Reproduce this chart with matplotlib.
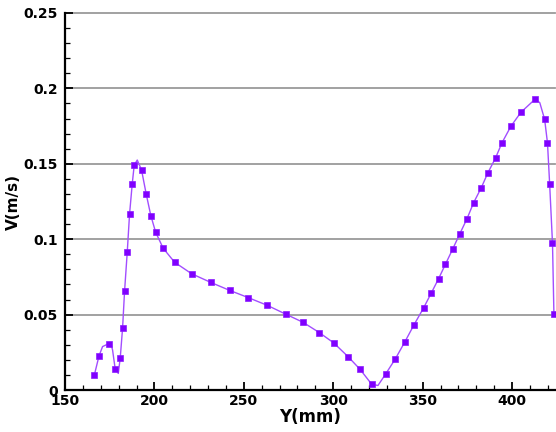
import matplotlib

matplotlib.use("Agg")
import matplotlib.pyplot as plt
import numpy as np

# Sampled profile (symbols)
y_mm = [166.4, 169.0, 174.4, 178.1, 180.9, 182.2, 183.3, 184.8, 186.1, 187.6,
        188.7, 192.8, 195.4, 198.0, 200.7, 204.9, 211.3, 220.8, 231.4, 242.0,
        252.6, 263.2, 273.6, 283.1, 292.3, 300.3, 308.3, 315.0, 321.5, 329.3,
        334.7, 339.9, 345.1, 350.6, 354.9, 358.9, 362.7, 366.8, 370.7, 374.8,
        378.5, 382.8, 386.5, 390.8, 394.3, 399.3, 404.9, 413.0, 418.2, 419.8,
        421.0, 422.6, 423.4]
v_ms = [0.0099, 0.0225, 0.0307, 0.0137, 0.0214, 0.0411, 0.0654, 0.0913, 0.1167, 0.1368,
        0.1490, 0.1459, 0.1300, 0.1156, 0.1046, 0.0940, 0.0847, 0.0771, 0.0714, 0.0661,
        0.0612, 0.0561, 0.0502, 0.0449, 0.0380, 0.0312, 0.0221, 0.0137, 0.0038, 0.0106,
        0.0206, 0.0316, 0.0431, 0.0546, 0.0645, 0.0738, 0.0833, 0.0935, 0.1034, 0.1136,
        0.1242, 0.1342, 0.1441, 0.1540, 0.1638, 0.1748, 0.1841, 0.1930, 0.1795, 0.1638,
        0.1368, 0.0973, 0.0502]

# Extra vertices of the fitted curve between symbols
y_extra = [171.0, 175.6, 176.6, 179.8, 190.4, 325.0, 415.5]
v_extra = [0.0288, 0.0312, 0.0265, 0.0110, 0.1525, 0.0030, 0.1905]

y_ticks = [0.0, 0.05, 0.1, 0.15, 0.2, 0.25]
y_tick_labels = ["0", "0.05", "0.1", "0.15", "0.2", "0.25"]
x_ticks = [150, 200, 250, 300, 350, 400]

curve_x = np.array(y_mm + y_extra)
curve_v = np.array(v_ms + v_extra)
order = np.argsort(curve_x)

fig = plt.figure(figsize=(5.56, 4.32), dpi=100)
ax = fig.add_axes([65 / 556, 42 / 432, 490 / 556, 377 / 432])

for yv in y_ticks[1:]:
    ax.axhline(yv, color="#9a9a9a", linewidth=1.3, clip_on=False, zorder=1)

ax.plot(curve_x[order], curve_v[order], color="#a24dff", linewidth=1.0, zorder=2)
ax.plot(y_mm, v_ms, linestyle="none", marker="s", markersize=4.6,
        markerfacecolor="#8000ff", markeredgecolor="#8a1cff",
        markeredgewidth=0.5, zorder=3)

ax.set_xlim(150, 424)
ax.set_ylim(0, 0.25)
ax.set_xticks(x_ticks)
ax.set_xticks(np.arange(160, 424, 10), minor=True)
ax.set_yticks(y_ticks)
ax.set_yticklabels(y_tick_labels)
ax.set_yticks(np.arange(0.01, 0.25, 0.01), minor=True)

for side in ("top", "right"):
    ax.spines[side].set_visible(False)
for side in ("left", "bottom"):
    ax.spines[side].set_linewidth(1.6)
    ax.spines[side].set_color("black")

ax.tick_params(which="major", direction="in", length=6, width=1.3, color="black")
ax.tick_params(which="minor", direction="in", length=3.5, width=0.9, color="black")
ax.tick_params(axis="x", which="major", pad=3)
ax.tick_params(axis="y", which="major", pad=5)
for lbl in ax.get_xticklabels() + ax.get_yticklabels():
    lbl.set_fontfamily("DejaVu Sans")
    lbl.set_fontweight("bold")
    lbl.set_fontsize(10)

ax.set_xlabel("Y(mm)", fontsize=12, fontweight="bold", labelpad=0)
ax.set_ylabel("V(m/s)", fontsize=11, fontweight="bold")
ax.yaxis.set_label_coords(-0.09, 0.5)

fig.savefig("out.png", dpi=100)
plt.close(fig)
